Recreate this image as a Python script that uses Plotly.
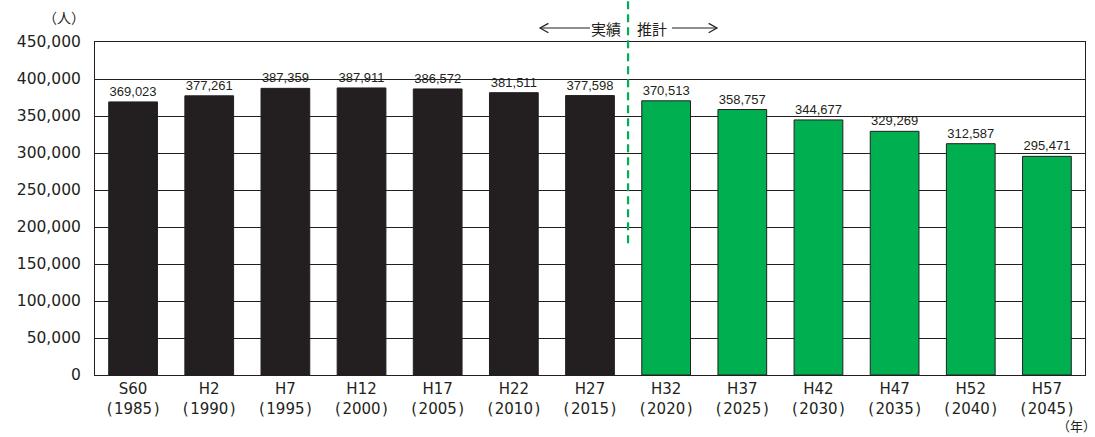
import plotly.graph_objects as go

era_labels = ["S60", "H2", "H7", "H12", "H17", "H22", "H27",
              "H32", "H37", "H42", "H47", "H52", "H57"]
years = [1985, 1990, 1995, 2000, 2005, 2010, 2015, 2020, 2025, 2030, 2035, 2040, 2045]
values = [369023, 377261, 387359, 387911, 386572, 381511, 377598,
          370513, 358757, 344677, 329269, 312587, 295471]
actual_count = 7
y_ticks = [0, 50000, 100000, 150000, 200000, 250000, 300000, 350000, 400000, 450000]
y_tick_labels = [f"{v:,}" for v in y_ticks]

categories = [f"{e}<br>(\u200a{y}\u200a)" for e, y in zip(era_labels, years)]
colors = ["#231f20"] * actual_count + ["#00b050"] * (len(values) - actual_count)

fig = go.Figure()
fig.add_trace(go.Bar(
    x=categories, y=values,
    marker=dict(color=colors, line=dict(color="#231f20", width=1)),
    text=[f"{v:,}" for v in values], textposition="outside",
    textfont=dict(family="Liberation Sans, Arial", size=13, color="#231f20"),
    cliponaxis=False, hoverinfo="skip",
))

fig.update_layout(
    width=1095, height=437,
    margin=dict(l=95, r=10, t=42, b=62, autoexpand=False),
    paper_bgcolor="white", plot_bgcolor="white",
    bargap=0.36, showlegend=False,
    font=dict(family="Noto Sans CJK JP", color="#231f20"),
    xaxis=dict(showline=True, linecolor="#231f20", linewidth=1, mirror=True, automargin=False,
               tickfont=dict(size=15, family="DejaVu Sans"), ticks=""),
    yaxis=dict(range=[0, 450000], tickvals=y_ticks, ticktext=y_tick_labels, automargin=False,
               showgrid=True, gridcolor="#231f20", gridwidth=1,
               showline=True, linecolor="#231f20", linewidth=1, mirror=True,
               tickfont=dict(size=15.5, family="DejaVu Sans"), ticks="", ticklen=0,
               ticklabelstandoff=10, zeroline=False),
)

div = actual_count - 0.5
# dashed divider between actual and projected
fig.add_shape(type="line", xref="x", yref="paper", x0=div, x1=div,
              y0=0.396, y1=1.125, line=dict(color="#00b050", width=2.2, dash="8px,5px"))

ya = 1.042
fig.add_annotation(text="実績", xref="x", yref="paper", x=div, y=ya,
                   xanchor="right", yanchor="middle", xshift=-5, showarrow=False,
                   font=dict(size=15))
fig.add_annotation(text="推計", xref="x", yref="paper", x=div, y=ya,
                   xanchor="left", yanchor="middle", xshift=7, showarrow=False,
                   font=dict(size=15))
# arrows (open chevrons)
lx0, lx1 = 5.344, 6.0
rx0, rx1 = 7.077, 7.668
hx, hy = 0.11, 0.014
arrow_line = dict(color="#231f20", width=1.2)
fig.add_shape(type="line", xref="x", yref="paper", x0=lx0, x1=lx1, y0=ya, y1=ya, line=arrow_line)
fig.add_shape(type="path", xref="x", yref="paper",
              path=f"M {lx0+hx},{ya+hy} L {lx0},{ya} L {lx0+hx},{ya-hy}", line=arrow_line)
fig.add_shape(type="line", xref="x", yref="paper", x0=rx0, x1=rx1, y0=ya, y1=ya, line=arrow_line)
fig.add_shape(type="path", xref="x", yref="paper",
              path=f"M {rx1-hx},{ya+hy} L {rx1},{ya} L {rx1-hx},{ya-hy}", line=arrow_line)

fig.add_annotation(text="（人）", xref="paper", yref="paper", x=-0.008, y=1.075,
                   xanchor="right", yanchor="middle", showarrow=False, font=dict(size=14))
fig.add_annotation(text="（年）", xref="paper", yref="paper", x=1.013, y=-0.152,
                   xanchor="right", yanchor="middle", showarrow=False, font=dict(size=13))

fig.write_html("out.html", config={"displayModeBar": False},
               post_script="document.body.style.margin='0';document.body.style.overflow='hidden';")
